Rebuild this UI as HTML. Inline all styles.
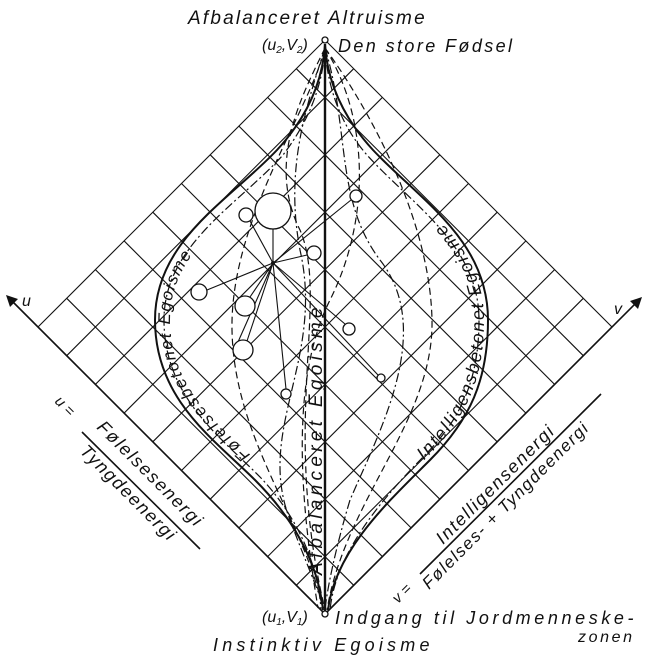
<!DOCTYPE html>
<html><head><meta charset="utf-8"><style>
html,body{margin:0;padding:0;background:#fff;}
svg{display:block;}
text{font-family:"Liberation Sans",sans-serif;font-style:italic;fill:#111;}
</style></head><body>
<svg width="645" height="659" viewBox="0 0 645 659" xmlns="http://www.w3.org/2000/svg">
<g stroke="#111" stroke-width="1.1" fill="none">
<line x1="325" y1="614" x2="38" y2="327"/>
<line x1="353.7" y1="585.3" x2="66.7" y2="298.3"/>
<line x1="382.4" y1="556.6" x2="95.4" y2="269.6"/>
<line x1="411.1" y1="527.9" x2="124.1" y2="240.9"/>
<line x1="439.8" y1="499.2" x2="152.8" y2="212.2"/>
<line x1="468.5" y1="470.5" x2="181.5" y2="183.5"/>
<line x1="497.2" y1="441.8" x2="210.2" y2="154.8"/>
<line x1="525.9" y1="413.1" x2="238.9" y2="126.1"/>
<line x1="554.6" y1="384.4" x2="267.6" y2="97.4"/>
<line x1="583.3" y1="355.7" x2="296.3" y2="68.7"/>
<line x1="612" y1="327" x2="325" y2="40"/>
<line x1="325" y1="614" x2="612" y2="327"/>
<line x1="296.3" y1="585.3" x2="583.3" y2="298.3"/>
<line x1="267.6" y1="556.6" x2="554.6" y2="269.6"/>
<line x1="238.9" y1="527.9" x2="525.9" y2="240.9"/>
<line x1="210.2" y1="499.2" x2="497.2" y2="212.2"/>
<line x1="181.5" y1="470.5" x2="468.5" y2="183.5"/>
<line x1="152.8" y1="441.8" x2="439.8" y2="154.8"/>
<line x1="124.1" y1="413.1" x2="411.1" y2="126.1"/>
<line x1="95.4" y1="384.4" x2="382.4" y2="97.4"/>
<line x1="66.7" y1="355.7" x2="353.7" y2="68.7"/>
<line x1="38" y1="327" x2="325" y2="40"/>
</g>
<g stroke="#111" stroke-width="1.6" fill="none">
<line x1="325" y1="614" x2="10" y2="299"/>
<line x1="325" y1="614" x2="638" y2="301"/>
<line x1="82" y1="432" x2="200" y2="549"/>
<line x1="601" y1="394" x2="420" y2="574"/>
</g>
<polygon points="6,295 18,299 10,307" fill="#111"/>
<polygon points="642,297 638,309 630,301" fill="#111"/>
<line x1="325" y1="44" x2="325" y2="611" stroke="#111" stroke-width="2.4"/>
<path id="lc" d="M323,610 C318,560 290,515 255,480 C215,440 155,400 155,320 C155,240 230,200 277,150 C300,125 322,90 325,45" stroke="#111" stroke-width="2" fill="none"/>
<path id="rc" d="M328,610 C335,550 390,500 430,460 C470,420 488,380 488,320 C488,240 420,200 373,150 C350,125 328,90 325,45" stroke="#111" stroke-width="2" fill="none"/>
<g stroke="#111" stroke-width="1.2" fill="none" stroke-dasharray="9,3,2,3">
<path d="M325,48 C322,95 302,130 283,155 C238,205 164,245 164,320 C164,398 222,438 261,478 C294,513 318,560 321,610"/>
<path d="M325,48 C328,95 345,130 367,155 C412,205 479,245 479,320 C479,378 462,418 424,456 C386,495 336,550 330,610"/>
<path d="M325,48 C305,110 285,170 300,250 C325,360 255,430 290,520 C305,560 318,590 325,610"/>
<path d="M325,48 C350,130 335,200 380,260 C435,330 380,430 350,500 C335,550 327,590 325,610"/>
</g>
<g stroke="#111" stroke-width="1.2" fill="none" stroke-dasharray="7,4">
<path d="M325,48 C310,110 230,220 232,330 C234,440 305,520 323,610"/>
<path d="M325,48 C370,110 430,220 432,320 C434,420 345,500 327,610"/>
<path d="M325,48 C370,120 370,220 330,300 C290,380 300,500 318,608"/>
<path d="M325,48 C305,90 265,160 300,230 C330,300 280,420 325,610"/>
</g>
<g stroke="#111" stroke-width="1.1" fill="none">
<line x1="273" y1="263" x2="273" y2="229"/>
<line x1="273" y1="263" x2="250" y2="221"/>
<line x1="273" y1="263" x2="307" y2="255"/>
<line x1="273" y1="263" x2="351" y2="200"/>
<line x1="273" y1="263" x2="207" y2="290"/>
<line x1="273" y1="263" x2="250" y2="297"/>
<line x1="273" y1="263" x2="247" y2="341"/>
<line x1="273" y1="263" x2="238" y2="342"/>
<line x1="273" y1="263" x2="286" y2="389"/>
<line x1="273" y1="263" x2="345" y2="324"/>
<line x1="273" y1="263" x2="378" y2="375"/>
</g>
<g stroke="#111" stroke-width="1.3" fill="#fff">
<circle cx="273" cy="211" r="18"/>
<circle cx="246" cy="215" r="7"/>
<circle cx="314" cy="253" r="7"/>
<circle cx="356" cy="196" r="6"/>
<circle cx="199" cy="292" r="8"/>
<circle cx="245" cy="306" r="10"/>
<circle cx="243" cy="350" r="10"/>
<circle cx="349" cy="329" r="6"/>
<circle cx="286" cy="394" r="5"/>
<circle cx="381" cy="378" r="4"/>
<circle cx="325" cy="40" r="3"/>
<circle cx="325" cy="614" r="3"/>
</g>
<circle cx="273" cy="263" r="2" fill="#111"/>
<text x="188" y="24" font-size="19" letter-spacing="2.2">Afbalanceret  Altruisme</text>
<text x="262" y="50" font-size="16">(u<tspan font-size="10" dy="3">2</tspan><tspan dy="-3">,V</tspan><tspan font-size="10" dy="3">2</tspan><tspan dy="-3">)</tspan></text>
<text x="338" y="52" font-size="18" letter-spacing="2.4">Den store Fødsel</text>
<text x="262" y="622" font-size="16">(u<tspan font-size="10" dy="3">1</tspan><tspan dy="-3">,V</tspan><tspan font-size="10" dy="3">1</tspan><tspan dy="-3">)</tspan></text>
<text x="335" y="624" font-size="18" letter-spacing="3.6">Indgang til Jordmenneske-</text>
<text x="578" y="642" font-size="16" letter-spacing="2.6">zonen</text>
<text x="213" y="651" font-size="18" letter-spacing="4.2">Instinktiv  Egoisme</text>
<text x="22" y="306" font-size="16">u</text>
<text x="614" y="314" font-size="16">v</text>
<text transform="translate(54,402) rotate(45)" font-size="15">u =</text>
<text transform="translate(96,428) rotate(45)" font-size="18" letter-spacing="1.7">Følelsesenergi</text>
<text transform="translate(79,452) rotate(45)" font-size="18" letter-spacing="1.6">Tyngdeenergi</text>
<text transform="translate(398,604) rotate(-45)" font-size="15">v =</text>
<text transform="translate(443,545) rotate(-45)" font-size="18" letter-spacing="1.7">Intelligensenergi</text>
<text transform="translate(429,590) rotate(-45)" font-size="17" letter-spacing="1.5">Følelses- + Tyngdeenergi</text>
<text transform="translate(322,575) rotate(-90)" font-size="19" letter-spacing="4.3">Afbalanceret Egoisme</text>
<text font-size="17" letter-spacing="2.8"><textPath href="#lc" startOffset="170"><tspan dy="15">Følelsesbetonet Egoisme</tspan></textPath></text>
<text font-size="18" letter-spacing="2.2"><textPath href="#rc" startOffset="180"><tspan dy="-4">Intelligensbetonet Egoisme</tspan></textPath></text>
</svg>
</body></html>
